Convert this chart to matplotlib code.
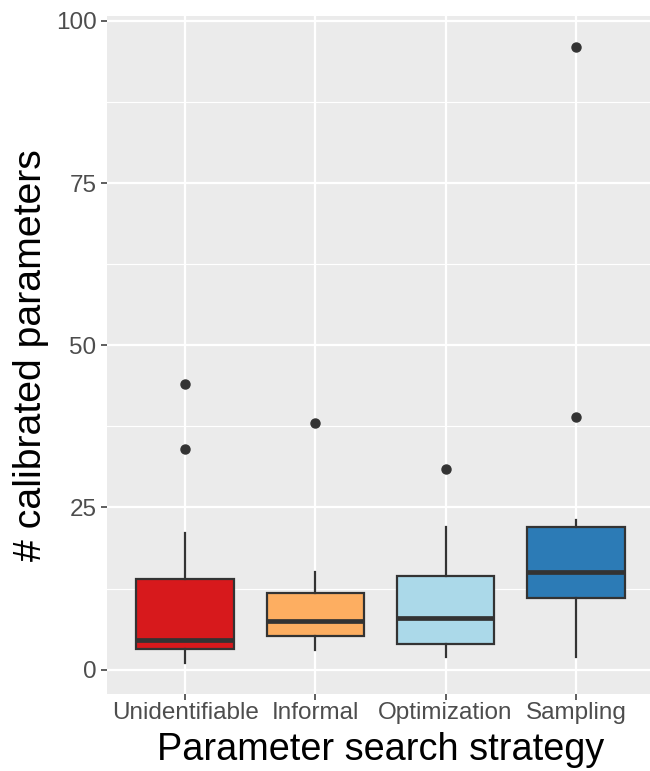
import matplotlib
matplotlib.use("Agg")
import matplotlib.pyplot as plt
from matplotlib.ticker import MultipleLocator

plt.rcParams['font.family'] = ['Liberation Sans', 'DejaVu Sans']

# box summary values
strategies = ["Unidentifiable", "Informal", "Optimization", "Sampling"]
whisker_low = [1, 3, 2, 2]
q1 = [3.25, 5.25, 4, 11]
medians = [4.5, 7.5, 8, 15]
q3 = [14, 11.75, 14.5, 22]
whisker_high = [21, 15, 22, 23]
outliers = [[34, 44], [38], [31], [39, 96]]
colors = ["#D7191C", "#FDAE61", "#ABD9E9", "#2C7BB6"]

stats = []
for i in range(len(strategies)):
    stats.append(dict(label=strategies[i], whislo=whisker_low[i], q1=q1[i],
                      med=medians[i], q3=q3[i], whishi=whisker_high[i],
                      fliers=outliers[i]))

fig = plt.figure(figsize=(6.5, 7.71), dpi=100)
ax = fig.add_axes([107/650, 77/771, 547/650, 678/771])
ax.set_facecolor("#EBEBEB")

edge = "#333333"
bp = ax.bxp(stats, positions=range(1, 5), widths=0.75, patch_artist=True,
            showcaps=False,
            boxprops=dict(edgecolor=edge, linewidth=1.6),
            medianprops=dict(color=edge, linewidth=3.4, solid_capstyle="butt"),
            whiskerprops=dict(color=edge, linewidth=1.6),
            flierprops=dict(marker="o", markerfacecolor=edge, markeredgecolor=edge,
                            markersize=6.5, linestyle="none"))
for patch, c in zip(bp['boxes'], colors):
    patch.set_facecolor(c)
for part in bp['boxes'] + bp['medians'] + bp['whiskers'] + bp['fliers']:
    part.set_zorder(3)

ax.set_xlim(0.4, 4.6)
ax.set_ylim(-3.75, 100.75)
ax.yaxis.set_major_locator(MultipleLocator(25))
ax.yaxis.set_minor_locator(MultipleLocator(12.5))
ax.set_axisbelow(True)
ax.grid(which="major", color="white", linewidth=1.6)
ax.grid(which="minor", axis="y", color="white", linewidth=0.8)
for s in ax.spines.values():
    s.set_visible(False)

ax.tick_params(axis="both", which="major", colors="#333333", length=4.5, width=1.1,
               labelsize=17.5, labelcolor="#4D4D4D")
ax.tick_params(axis="y", which="minor", length=0)
ax.tick_params(axis="x", pad=1.5)
ax.tick_params(axis="y", pad=3)

ax.set_xlabel("Parameter search strategy", fontsize=27.3)
ax.set_ylabel("# calibrated parameters", fontsize=28.3)
# raised a little so the descenders stay inside the figure
ax.xaxis.set_label_coords(0.5, -0.056)
ax.yaxis.set_label_coords(-0.106, 0.5)

fig.savefig("out.png", dpi=100)
